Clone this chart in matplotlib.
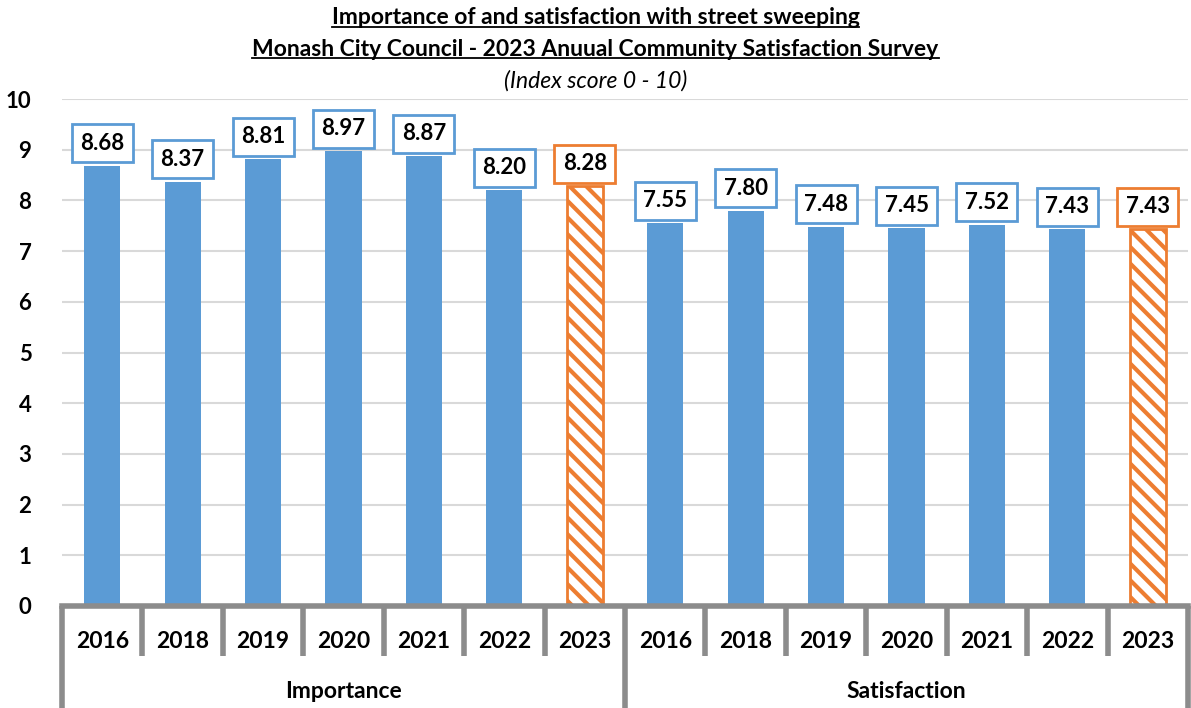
import matplotlib
matplotlib.use("Agg")
import matplotlib.pyplot as plt
import matplotlib.transforms as mtransforms
from matplotlib.lines import Line2D
import numpy as np

plt.rcParams['font.family'] = ['Lato', 'DejaVu Sans']
plt.rcParams['hatch.linewidth'] = 3.0

years = ["2016", "2018", "2019", "2020", "2021", "2022", "2023"]
groups = ["Importance", "Satisfaction"]
importance = [8.68, 8.37, 8.81, 8.97, 8.87, 8.20, 8.28]
satisfaction = [7.55, 7.80, 7.48, 7.45, 7.52, 7.43, 7.43]

BLUE = "#5B9BD5"
ORANGE = "#ED7D31"
GREY = "#8C8C8C"

values = importance + satisfaction
labels = years + years
n = len(values)
x = np.arange(n)

fig = plt.figure(figsize=(11.91, 7.08), dpi=100)
ax = fig.add_axes([62 / 1191, 102 / 708, 1126 / 1191, 507 / 708])

for i, v in enumerate(values):
    current = labels[i] == "2023"
    if current:
        ax.bar(x[i], v, width=0.45, color="white", edgecolor=ORANGE,
               hatch="\\\\", linewidth=2, zorder=3)
    else:
        ax.bar(x[i], v, width=0.45, color=BLUE, zorder=3)
    ax.annotate(f"{v:.2f}", (x[i], v), xytext=(0, 12), textcoords="offset pixels",
                ha="center", va="bottom", fontsize=16, fontweight="bold",
                bbox=dict(boxstyle="square,pad=0.38", fc="white",
                          ec=ORANGE if current else BLUE, lw=2),
                zorder=5)

ax.set_xlim(-0.5, n - 0.5)
ax.set_ylim(0, 10)
ax.set_yticks(range(0, 11))
ax.set_yticklabels([str(t) for t in range(0, 11)], fontsize=16, fontweight="bold")
ax.tick_params(axis="y", length=0, pad=22)
ax.tick_params(axis="x", length=0, labelbottom=False)
ax.grid(axis="y", color="#D9D9D9", linewidth=1.5, zorder=0)
for s in ["left", "right", "top"]:
    ax.spines[s].set_visible(False)
ax.spines["bottom"].set_color(GREY)
ax.spines["bottom"].set_linewidth(4)
ax.spines["bottom"].set_zorder(4)

# two-level category axis drawn below the plot
trans = mtransforms.blended_transform_factory(ax.transData, ax.transAxes)
h = ax.bbox.height
tick_bottom = -50 / h
for i in range(n + 1):
    edge = i - 0.5
    y_end = -110 / h if i in (0, len(years), n) else tick_bottom
    ax.plot([edge, edge], [0, y_end], transform=trans, color=GREY,
            linewidth=4, clip_on=False, solid_capstyle="butt")
for i, lab in enumerate(labels):
    ax.text(x[i], -36 / h, lab, transform=trans, ha="center", va="center",
            fontsize=16.5, fontweight="bold")
for g, name in enumerate(groups):
    centre = g * len(years) + (len(years) - 1) / 2
    ax.text(centre, -85 / h, name, transform=trans, ha="center", va="center",
            fontsize=16.5, fontweight="bold")

# titles, first two lines underlined
title_lines = [
    ("Importance of and satisfaction with street sweeping", 1 - 18 / 708),
    ("Monash City Council - 2023 Anuual Community Satisfaction Survey", 1 - 49 / 708),
]
title_texts = []
for txt, y in title_lines:
    t = fig.text(0.5, y, txt, ha="center", va="center", fontsize=16.5, fontweight="bold")
    title_texts.append(t)
fig.text(0.5, 1 - 81 / 708, "(Index score 0 - 10)", ha="center", va="center",
         fontsize=16.5, fontstyle="italic")

fig.canvas.draw()
renderer = fig.canvas.get_renderer()
for t in title_texts:
    bb = t.get_window_extent(renderer).transformed(fig.transFigure.inverted())
    fig.add_artist(Line2D([bb.x0, bb.x1], [bb.y0 + 0.002, bb.y0 + 0.002],
                          transform=fig.transFigure, color="black", linewidth=1.3))

fig.savefig("out.png", dpi=100)
